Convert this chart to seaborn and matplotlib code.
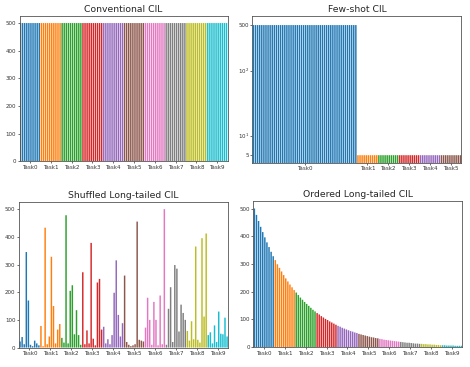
import seaborn as sns
import matplotlib
matplotlib.use("Agg")
import matplotlib.pyplot as plt
import matplotlib.ticker as mticker
import pandas as pd

# ---- data ----
task_names = ["Task0", "Task1", "Task2", "Task3", "Task4",
              "Task5", "Task6", "Task7", "Task8", "Task9"]

conventional_counts = [500] * 100

fewshot_tasks = ["Task0", "Task1", "Task2", "Task3", "Task4", "Task5"]
fewshot_sizes = [50, 10, 10, 10, 10, 10]
fewshot_counts = [500] * 50 + [5] * 50

shuffled_counts = [
    22, 38, 12, 345, 170, 10, 5, 25, 15, 8,
    78, 5, 433, 12, 40, 328, 150, 15, 65, 85,
    35, 18, 478, 15, 205, 225, 48, 135, 45, 10,
    272, 12, 62, 15, 378, 32, 8, 235, 248, 65,
    75, 15, 30, 12, 45, 198, 315, 118, 40, 88,
    260, 20, 10, 5, 8, 12, 455, 28, 25, 22,
    72, 180, 100, 10, 165, 100, 8, 188, 12, 500,
    10, 140, 218, 20, 298, 285, 58, 155, 125, 100,
    60, 25, 95, 30, 365, 28, 18, 395, 112, 412,
    45, 55, 15, 80, 20, 130, 50, 48, 108, 40,
]

ordered_counts = [
    500, 477, 455, 434, 415, 396, 378, 361, 344, 328,
    314, 299, 286, 273, 260, 248, 237, 226, 216, 206,
    197, 188, 179, 171, 163, 156, 149, 142, 135, 129,
    123, 118, 112, 107, 102, 98, 93, 89, 85, 81,
    77, 74, 70, 67, 64, 61, 58, 56, 53, 51,
    48, 46, 44, 42, 40, 38, 36, 35, 33, 32,
    30, 29, 27, 26, 25, 24, 23, 22, 21, 20,
    19, 18, 17, 16, 16, 15, 14, 13, 13, 12,
    12, 11, 11, 10, 10, 9, 9, 8, 8, 7,
    7, 7, 6, 6, 6, 6, 5, 5, 5, 5,
]


def make_df(counts, tasks, sizes):
    labels = []
    for t, s in zip(tasks, sizes):
        labels += [t] * s
    return pd.DataFrame({"cls": range(len(counts)), "n": counts, "task": labels})


def draw(ax, df, tasks, sizes, title, log=False):
    if log:
        ax.set_yscale("log")
    sns.barplot(data=df, x="cls", y="n", hue="task", hue_order=tasks,
                palette=sns.color_palette("tab10", len(tasks)), dodge=False,
                width=0.7, saturation=1, legend=False, ax=ax, linewidth=0)
    # no pixel snapping, so the thin white gaps blend like the original
    for p in ax.patches:
        p.set_snap(False)
    # tick at the centre of each task block
    centres = []
    start = 0
    for s in sizes:
        centres.append(start + (s - 1) / 2)
        start += s
    ax.set_xticks(centres)
    ax.set_xticklabels(tasks)
    ax.set_xlim(-0.5, len(df) - 0.5)
    ax.set_xlabel("")
    ax.set_ylabel("")
    ax.set_title(title, fontsize=6.7, pad=3)
    ax.tick_params(labelsize=4, length=1.5, width=0.5, pad=1, colors="#333333")
    for sp in ax.spines.values():
        sp.set_linewidth(0.6)
        sp.set_color("#555555")


sns.set_style("ticks")
fig = plt.figure(figsize=(4.7, 3.67), dpi=100)

ax1 = fig.add_axes([0.0415, 0.561, 0.4426, 0.395])
ax2 = fig.add_axes([0.537, 0.556, 0.4447, 0.4005])
ax3 = fig.add_axes([0.0404, 0.053, 0.445, 0.396])
ax4 = fig.add_axes([0.539, 0.054, 0.445, 0.399])

ten = [10] * 10

draw(ax1, make_df(conventional_counts, task_names, ten), task_names, ten, "Conventional CIL")
ax1.set_ylim(0, 525)

draw(ax2, make_df(fewshot_counts, fewshot_tasks, fewshot_sizes), fewshot_tasks,
     fewshot_sizes, "Few-shot CIL", log=True)
ax2.set_ylim(3.8, 690)
ax2.yaxis.set_minor_locator(mticker.NullLocator())
ax2.set_yticks([5, 10, 100, 500])
ax2.set_yticklabels(["5", "$10^1$", "$10^2$", "500"])

draw(ax3, make_df(shuffled_counts, task_names, ten), task_names, ten, "Shuffled Long-tailed CIL")
ax3.set_ylim(0, 525)

draw(ax4, make_df(ordered_counts, task_names, ten), task_names, ten, "Ordered Long-tailed CIL")
ax4.set_ylim(0, 528)

fig.savefig("out.png", dpi=100)
